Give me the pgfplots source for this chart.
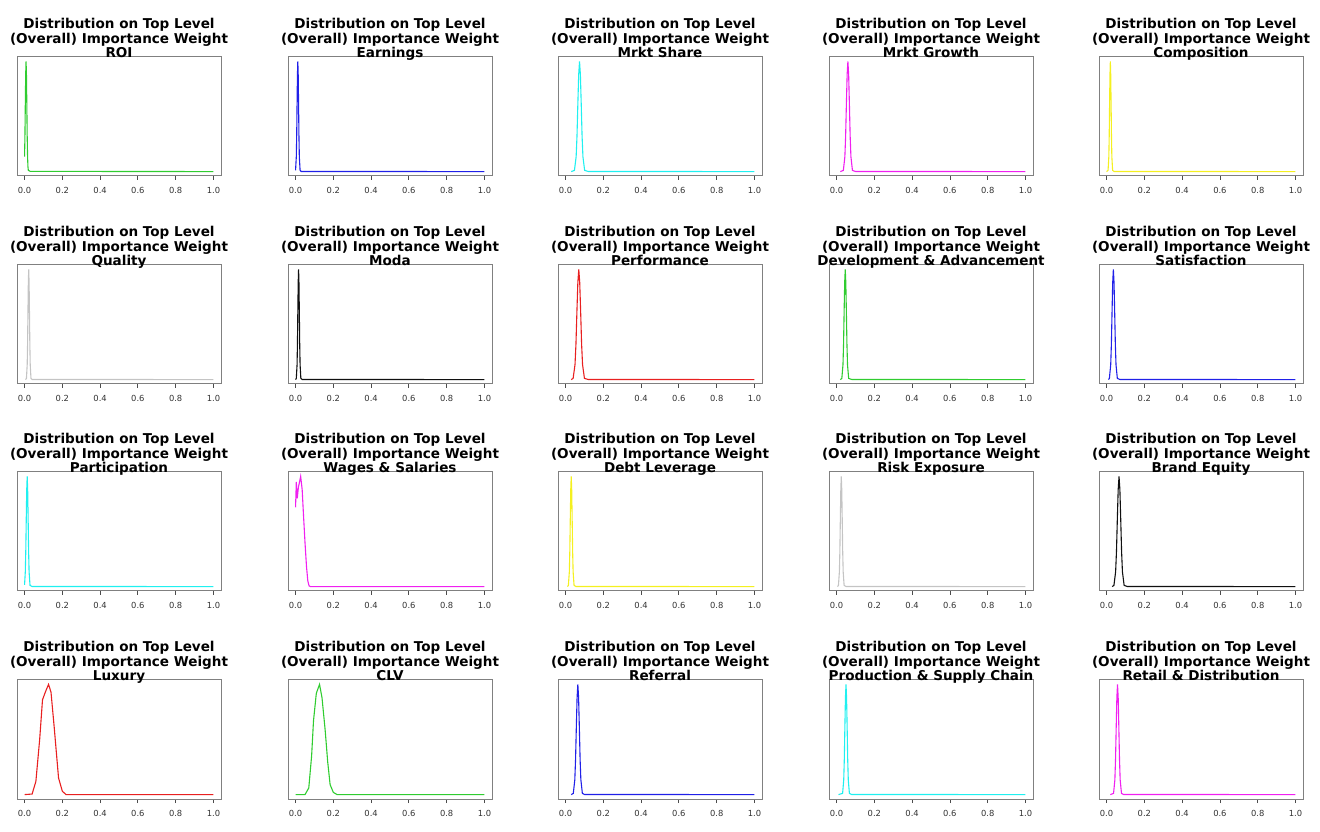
\documentclass[border=0pt]{standalone}
\usepackage{pgfplots}
\pgfplotsset{compat=1.18}
\usepackage{fontspec}
\setmainfont{DejaVu Sans}
\definecolor{Rgreen}{HTML}{30CC30}
\definecolor{Rblue}{HTML}{2020E8}
\definecolor{Rcyan}{HTML}{20F0F0}
\definecolor{Rmag}{HTML}{F020F0}
\definecolor{Ryel}{HTML}{F4F020}
\definecolor{Rgray}{HTML}{C4C4C4}
\definecolor{Rred}{HTML}{E82020}
\definecolor{Rblack}{HTML}{101010}
\pgfplotsset{
  dens/.style={
    anchor=south west, scale only axis, width=102bp, height=59.5bp,
    xmin=-0.04, xmax=1.04, ymin=-0.04, ymax=1.04,
    ytick=\empty, xtick={0,0.2,0.4,0.6,0.8,1},
    xticklabels={0.0,0.2,0.4,0.6,0.8,1.0},
    xtick pos=left, tick align=outside, major tick length=2bp,
    tick style={black!70, line width=0.4bp},
    axis line style={black!50, line width=0.5bp},
    xticklabel style={font=\fontsize{4.2}{4.5}\selectfont, text=black!80, yshift=0bp},
    title style={font=\fontsize{6.8}{7.3}\selectfont\bfseries, align=center, anchor=south,
      at={(0.5,1)}, inner sep=0pt, yshift=-8bp},
    clip=false,
  }
}
\newcommand{\panel}[5]{%
\begin{axis}[dens, at={(#1bp,#2bp)},
  title={Distribution on Top Level\\(Overall) Importance Weight\\#3\vphantom{gy}}]
\addplot[#4, line width=0.55bp] coordinates {#5};
\end{axis}}
\begin{document}
\begin{tikzpicture}
\path[use as bounding box] (0,0) rectangle (660bp,416bp);
% row 1
\panel{8.5}{328}{ROI}{Rgreen}{(0,0.135) (0.002,0.32) (0.004,0.61) (0.006,0.88) (0.008,1) (0.010,0.88) (0.012,0.61) (0.014,0.32) (0.016,0.135) (0.018,0.044) (0.020,0.011) (0.03,0.002) (1,0)}
\panel{144}{328}{Earnings}{Rblue}{(0,0.011) (0.004,0.135) (0.006,0.32) (0.008,0.61) (0.010,0.88) (0.012,1) (0.014,0.88) (0.016,0.61) (0.018,0.32) (0.020,0.135) (0.024,0.011) (0.03,0.001) (1,0)}
\panel{279}{328}{Mrkt Share}{Rcyan}{(0.03,0) (0.047,0.011) (0.056,0.135) (0.0605,0.32) (0.065,0.61) (0.0695,0.88) (0.074,1) (0.0785,0.88) (0.083,0.61) (0.0875,0.32) (0.092,0.135) (0.101,0.011) (0.12,0.001) (1,0)}
\panel{414.5}{328}{Mrkt Growth}{Rmag}{(0.02,0) (0.036,0.011) (0.044,0.135) (0.048,0.32) (0.052,0.61) (0.056,0.88) (0.06,1) (0.064,0.88) (0.068,0.61) (0.072,0.32) (0.076,0.135) (0.084,0.011) (0.1,0.001) (1,0)}
\panel{549.5}{328}{Composition}{Ryel}{(0,0) (0.008,0.011) (0.012,0.135) (0.014,0.32) (0.016,0.61) (0.018,0.88) (0.02,1) (0.022,0.88) (0.024,0.61) (0.026,0.32) (0.028,0.135) (0.032,0.011) (0.04,0.001) (1,0)}
% row 2
\panel{8.5}{224}{Quality}{Rgray}{(0.005,0) (0.010,0.011) (0.014,0.135) (0.016,0.32) (0.018,0.61) (0.020,0.88) (0.022,1) (0.024,0.88) (0.026,0.61) (0.028,0.32) (0.030,0.135) (0.034,0.011) (0.04,0.001) (1,0)}
\panel{144}{224}{Moda}{Rblack}{(0,0) (0.004,0.011) (0.008,0.135) (0.010,0.32) (0.012,0.61) (0.014,0.88) (0.016,1) (0.018,0.88) (0.020,0.61) (0.022,0.32) (0.024,0.135) (0.028,0.011) (0.035,0.001) (1,0)}
\panel{279}{224}{Performance}{Rred}{(0.03,0) (0.04,0.011) (0.05,0.135) (0.055,0.32) (0.06,0.61) (0.065,0.88) (0.07,1) (0.075,0.88) (0.08,0.61) (0.085,0.32) (0.09,0.135) (0.10,0.011) (0.12,0.001) (1,0)}
\panel{414.5}{224}{Development \& Advancement}{Rgreen}{(0.02,0) (0.028,0.011) (0.034,0.135) (0.037,0.32) (0.040,0.61) (0.043,0.88) (0.046,1) (0.049,0.88) (0.052,0.61) (0.055,0.32) (0.058,0.135) (0.064,0.011) (0.08,0.001) (1,0)}
\panel{549.5}{224}{Satisfaction}{Rblue}{(0.01,0) (0.015,0.011) (0.022,0.135) (0.0255,0.32) (0.029,0.61) (0.0325,0.88) (0.036,1) (0.0395,0.88) (0.043,0.61) (0.0465,0.32) (0.050,0.135) (0.057,0.011) (0.07,0.001) (1,0)}
% row 3
\panel{8.5}{120.5}{Participation}{Rcyan}{(0,0.015) (0.004,0.135) (0.0065,0.32) (0.009,0.61) (0.0115,0.88) (0.014,1) (0.0165,0.88) (0.019,0.61) (0.0215,0.32) (0.024,0.135) (0.029,0.011) (0.04,0.001) (1,0)}
\panel{144}{120.5}{Wages \& Salaries}{Rmag}{(0,0.72) (0.004,0.95) (0.009,0.8) (0.015,0.9) (0.027,1.0) (0.035,0.88) (0.042,0.65) (0.05,0.4) (0.058,0.18) (0.065,0.05) (0.072,0.005) (0.08,0) (1,0)}
\panel{279}{120.5}{Debt Leverage}{Ryel}{(0.01,0) (0.015,0.011) (0.020,0.135) (0.0225,0.32) (0.025,0.61) (0.0275,0.88) (0.030,1) (0.0325,0.88) (0.035,0.61) (0.0375,0.32) (0.040,0.135) (0.045,0.011) (0.055,0.001) (1,0)}
\panel{414.5}{120.5}{Risk Exposure}{Rgray}{(0.005,0) (0.010,0.011) (0.015,0.135) (0.0175,0.32) (0.020,0.61) (0.0225,0.88) (0.025,1) (0.0275,0.88) (0.030,0.61) (0.0325,0.32) (0.035,0.135) (0.040,0.011) (0.05,0.001) (1,0)}
\panel{549.5}{120.5}{Brand Equity}{Rblack}{(0.03,0) (0.039,0.011) (0.048,0.135) (0.0525,0.32) (0.057,0.61) (0.0615,0.88) (0.066,1) (0.0705,0.88) (0.075,0.61) (0.0795,0.32) (0.084,0.135) (0.093,0.011) (0.11,0.001) (1,0)}
% row 4
\panel{8.5}{16.5}{Luxury}{Rred}{(0,0) (0.04,0.005) (0.06,0.12) (0.08,0.5) (0.095,0.86) (0.11,0.93) (0.127,1.0) (0.14,0.93) (0.157,0.61) (0.17,0.35) (0.18,0.15) (0.2,0.03) (0.22,0.0) (1,0)}
\panel{144}{16.5}{CLV}{Rgreen}{(0,0) (0.05,0.0) (0.07,0.06) (0.085,0.35) (0.095,0.67) (0.11,0.92) (0.127,1.0) (0.14,0.88) (0.157,0.58) (0.17,0.3) (0.183,0.09) (0.2,0.02) (0.22,0) (1,0)}
\panel{279}{16.5}{Referral}{Rblue}{(0.03,0) (0.041,0.011) (0.049,0.135) (0.053,0.32) (0.057,0.61) (0.061,0.88) (0.065,1) (0.069,0.88) (0.073,0.61) (0.077,0.32) (0.081,0.135) (0.089,0.011) (0.1,0.001) (1,0)}
\panel{414.5}{16.5}{Production \& Supply Chain}{Rcyan}{(0.01,0) (0.032,0.011) (0.038,0.135) (0.041,0.32) (0.044,0.61) (0.047,0.88) (0.050,1) (0.053,0.88) (0.056,0.61) (0.059,0.32) (0.062,0.135) (0.068,0.011) (0.08,0.001) (1,0)}
\panel{549.5}{16.5}{Retail \& Distribution}{Rmag}{(0.02,0) (0.037,0.011) (0.044,0.135) (0.0475,0.32) (0.051,0.61) (0.0545,0.88) (0.058,1) (0.0615,0.88) (0.065,0.61) (0.0685,0.32) (0.072,0.135) (0.079,0.011) (0.09,0.001) (1,0)}
\end{tikzpicture}
\end{document}
